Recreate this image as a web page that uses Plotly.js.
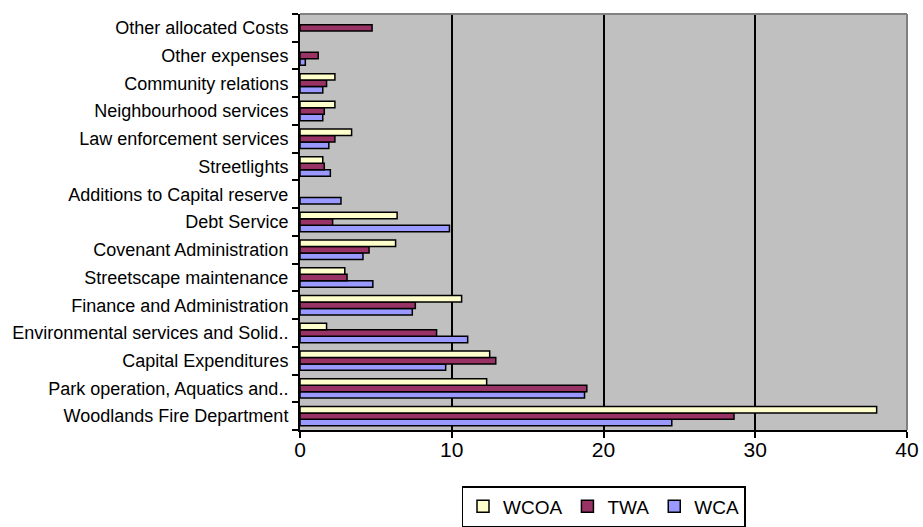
<!DOCTYPE html>
<html>
<head>
<meta charset="utf-8">
<script src="https://cdn.plot.ly/plotly-3.0.1.min.js"></script>
<style>html,body{margin:0;padding:0;background:#fff;}#chart{width:923px;height:527px;}</style>
</head>
<body>
<div id="chart"></div>
<script>
var categories = ["Woodlands Fire Department", "Park operation, Aquatics and..", "Capital Expenditures",
  "Environmental services and Solid..", "Finance and Administration", "Streetscape maintenance",
  "Covenant Administration", "Debt Service", "Additions to Capital reserve", "Streetlights",
  "Law enforcement services", "Neighbourhood services", "Community relations", "Other expenses",
  "Other allocated Costs"];
var WCOA = [38.0, 12.3, 12.5, 1.75, 10.65, 2.95, 6.3, 6.4, null, 1.5, 3.4, 2.3, 2.3, null, null];
var TWA  = [28.6, 18.9, 12.9, 9.0, 7.6, 3.1, 4.55, 2.15, null, 1.6, 2.3, 1.6, 1.75, 1.2, 4.75];
var WCA  = [24.5, 18.75, 9.6, 11.05, 7.4, 4.8, 4.15, 9.85, 2.7, 2.0, 1.9, 1.5, 1.5, 0.35, null];
var xTicks = [0, 10, 20, 30, 40];

var font = "Liberation Sans, Arial, sans-serif";
function tr(name, vals, color) {
  return {type: "bar", orientation: "h", name: name, y: categories, x: vals,
    marker: {color: color, line: {color: "#000", width: 1.5}}, hoverinfo: "x+y"};
}
var data = [tr("WCA", WCA, "#9999FF"), tr("TWA", TWA, "#993366"), tr("WCOA", WCOA, "#FFFFCC")];

var layout = {
  width: 923, height: 527,
  margin: {l: 300, r: 16, t: 14, b: 97},
  paper_bgcolor: "#fff", plot_bgcolor: "#C0C0C0",
  font: {family: font, color: "#000", size: 18},
  barmode: "group", bargap: 0.3, bargroupgap: 0,
  showlegend: true,
  legend: {orientation: "h", traceorder: "reversed", x: 0.5, xanchor: "center",
    yref: "container", y: 0, yanchor: "bottom",
    bordercolor: "#000", borderwidth: 1.5, bgcolor: "#fff", font: {size: 19, family: font},
    itemwidth: 30, tracegroupgap: 0},
  xaxis: {range: [0, 40], tickvals: xTicks, ticktext: xTicks.map(String), showgrid: true,
    gridcolor: "#000", gridwidth: 2, zeroline: false, showline: true, linecolor: "#000", linewidth: 2,
    ticks: "outside", ticklen: 6, tickwidth: 2, tickcolor: "#000", tickfont: {size: 21, family: font},
    ticklabelstandoff: -6, fixedrange: true},
  yaxis: {type: "category", categoryorder: "array", categoryarray: categories, showgrid: false,
    zeroline: false, showline: true, linecolor: "#000", linewidth: 2, ticks: "outside", tickson: "boundaries",
    ticklen: 6, tickwidth: 2, tickcolor: "#000", tickfont: {size: 18, family: font},
    ticklabelstandoff: 6, fixedrange: true},
  shapes: [
    {type: "line", xref: "paper", yref: "paper", x0: 0, x1: 1, y0: 1, y1: 1, line: {color: "#808080", width: 2}, layer: "above"},
    {type: "line", xref: "paper", yref: "paper", x0: 1, x1: 1, y0: 0, y1: 1, line: {color: "#808080", width: 2}, layer: "above"}
  ]
};
Plotly.newPlot("chart", data, layout, {displayModeBar: false, staticPlot: true});
</script>
</body>
</html>
